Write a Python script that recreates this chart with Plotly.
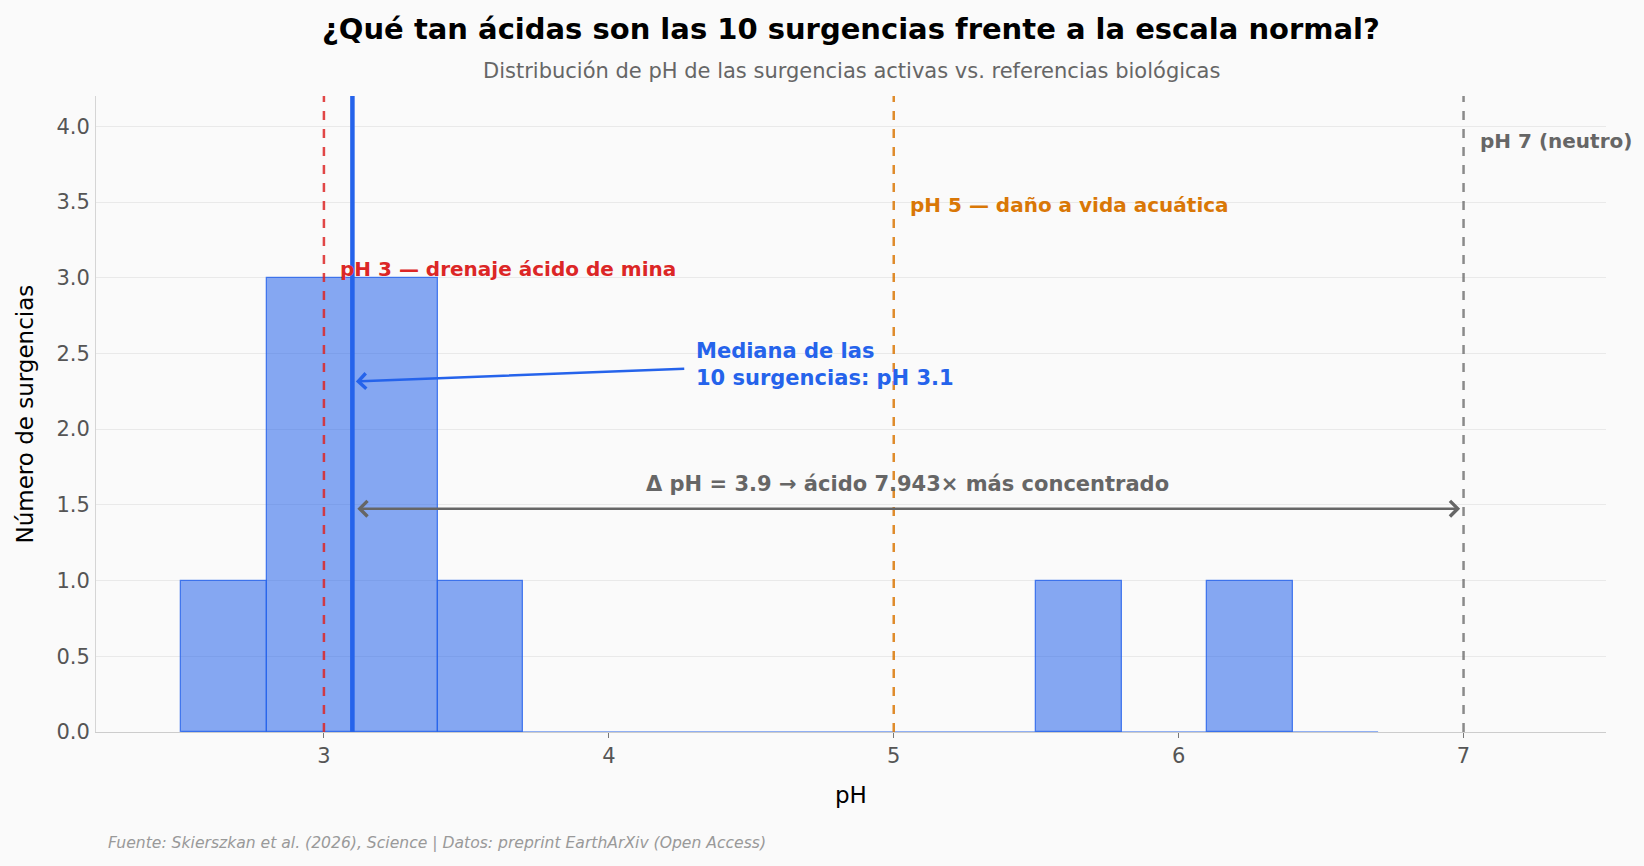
import numpy as np
import plotly.graph_objects as go

# ---- data ----
ph_values = [2.6, 2.9, 3.0, 3.0, 3.1, 3.1, 3.3, 3.5, 5.7, 6.3]
bin_start, bin_end, bin_size = 2.5, 6.7, 0.3
ref_ph = [3, 5, 7]
ref_labels = ["pH 3 — drenaje ácido de mina", "pH 5 — daño a vida acuática", "pH 7 (neutro)"]
ref_label_y = [3.06, 3.48, 3.9]
ref_line_colors = ["rgba(220,38,38,0.85)", "rgba(217,119,6,0.85)", "rgba(110,110,110,0.8)"]
ref_text_colors = ["#dc2626", "#d97706", "#666666"]
x_ticks = [3, 4, 5, 6, 7]
y_ticks = [0.0, 0.5, 1.0, 1.5, 2.0, 2.5, 3.0, 3.5, 4.0]

median = float(np.median(ph_values))
delta = 7 - median
factor = 10 ** delta
factor_txt = f"{factor:,.0f}".replace(",", ".")

BLUE = "#2563eb"
FONT = "DejaVu Sans"

fig = go.Figure()
fig.add_trace(go.Histogram(
    x=ph_values,
    xbins=dict(start=bin_start, end=bin_end, size=bin_size),
    marker=dict(color="rgba(37,99,235,0.55)", line=dict(color="rgba(37,99,235,0.8)", width=1.3)),
    hoverinfo="skip", showlegend=False,
))
# baseline of empty bins (matplotlib style)
fig.add_trace(go.Scatter(x=[bin_start, bin_end], y=[0, 0], mode="lines",
                         line=dict(color="rgba(37,99,235,0.5)", width=2),
                         hoverinfo="skip", showlegend=False))

shapes = []
for ph, lc in zip(ref_ph, ref_line_colors):
    shapes.append(dict(type="line", xref="x", yref="paper", x0=ph, x1=ph, y0=0, y1=1,
                       line=dict(color=lc, width=2.5, dash="dash")))
shapes.append(dict(type="line", xref="x", yref="paper", x0=median, x1=median, y0=0, y1=1,
                   line=dict(color=BLUE, width=4.5)))
fig.update_layout(shapes=shapes)

annotations = []
for ph, lab, ly, tc in zip(ref_ph, ref_labels, ref_label_y, ref_text_colors):
    annotations.append(dict(x=ph + 0.05, y=ly, xref="x", yref="y", text=f"<b>{lab}</b>",
                            showarrow=False, xanchor="left", yanchor="middle",
                            font=dict(family=FONT, size=20, color=tc)))
# median arrow + text
annotations.append(dict(x=median + 0.012, y=2.315, ax=4.27, ay=2.40, xref="x", yref="y",
                        axref="x", ayref="y", text="", showarrow=True, arrowhead=4,
                        arrowsize=1.2, arrowwidth=2.5, arrowcolor=BLUE))
annotations.append(dict(x=4.30, y=2.43, xref="x", yref="y",
                        text="<b>Mediana de las<br>10 surgencias: pH " + f"{median:.1f}" + "</b>",
                        showarrow=False, xanchor="left", yanchor="middle", align="left",
                        font=dict(family=FONT, size=21, color=BLUE)))
# delta arrow
annotations.append(dict(x=7 - 0.012, y=1.475, ax=median + 0.012, ay=1.475, xref="x", yref="y",
                        axref="x", ayref="y", text="", showarrow=True, arrowhead=4,
                        startarrowhead=4, arrowside="end+start", arrowsize=1.2, startarrowsize=1.2,
                        arrowwidth=2.5, arrowcolor="#666666"))
annotations.append(dict(x=(median + 7) / 2, y=1.64, xref="x", yref="y",
                        text=f"<b>Δ pH = {delta:.1f} → ácido {factor_txt}× más concentrado</b>",
                        showarrow=False, xanchor="center", yanchor="middle",
                        font=dict(family=FONT, size=21, color="#666666")))
# titles
annotations.append(dict(x=0.5, y=1.106, xref="paper", yref="paper",
                        text="<b>¿Qué tan ácidas son las 10 surgencias frente a la escala normal?</b>",
                        showarrow=False, xanchor="center", yanchor="middle",
                        font=dict(family=FONT, size=29, color="black")))
annotations.append(dict(x=0.5, y=1.040, xref="paper", yref="paper",
                        text="Distribución de pH de las surgencias activas vs. referencias biológicas",
                        showarrow=False, xanchor="center", yanchor="middle",
                        font=dict(family=FONT, size=21, color="#666666")))
annotations.append(dict(x=-0.0467, y=0.5, xref="paper", yref="paper", text="Número de surgencias",
                        textangle=-90, showarrow=False, xanchor="center", yanchor="middle",
                        font=dict(family=FONT, size=23, color="black")))
annotations.append(dict(x=0.5, y=-0.099, xref="paper", yref="paper", text="pH",
                        showarrow=False, xanchor="center", yanchor="middle",
                        font=dict(family=FONT, size=23, color="black")))
annotations.append(dict(x=0.0063, y=-0.1745, xref="paper", yref="paper",
                        text="<i>Fuente: Skierszkan et al. (2026), Science | Datos: preprint EarthArXiv (Open Access)</i>",
                        showarrow=False, xanchor="left", yanchor="middle",
                        font=dict(family=FONT, size=15.6, color="#999999")))
fig.update_layout(annotations=annotations)

fig.update_layout(
    width=1644, height=866,
    margin=dict(l=96, r=38, t=96, b=134),
    paper_bgcolor="#fafafa", plot_bgcolor="#fafafa",
    bargap=0,
    font=dict(family=FONT, size=21, color="#555555"),
)
fig.update_xaxes(range=[2.2, 7.5], tickvals=x_ticks, ticktext=[str(t) for t in x_ticks],
                 showgrid=False, zeroline=False, showline=True, linecolor="#cccccc", linewidth=1.2,
                 ticks="outside", ticklen=5, tickcolor="#777777", tickfont=dict(size=21, color="#555555"))
fig.update_yaxes(range=[0, 4.2], tickvals=y_ticks, ticktext=[f"{t:.1f}" for t in y_ticks],
                 showgrid=True, gridcolor="#e9e9e9", gridwidth=1, zeroline=False,
                 showline=True, linecolor="#d5d5d5", linewidth=1,
                 ticks="outside", ticklen=1, tickcolor="rgba(0,0,0,0)", tickfont=dict(size=21, color="#555555"))

fig.write_html("out.html")
